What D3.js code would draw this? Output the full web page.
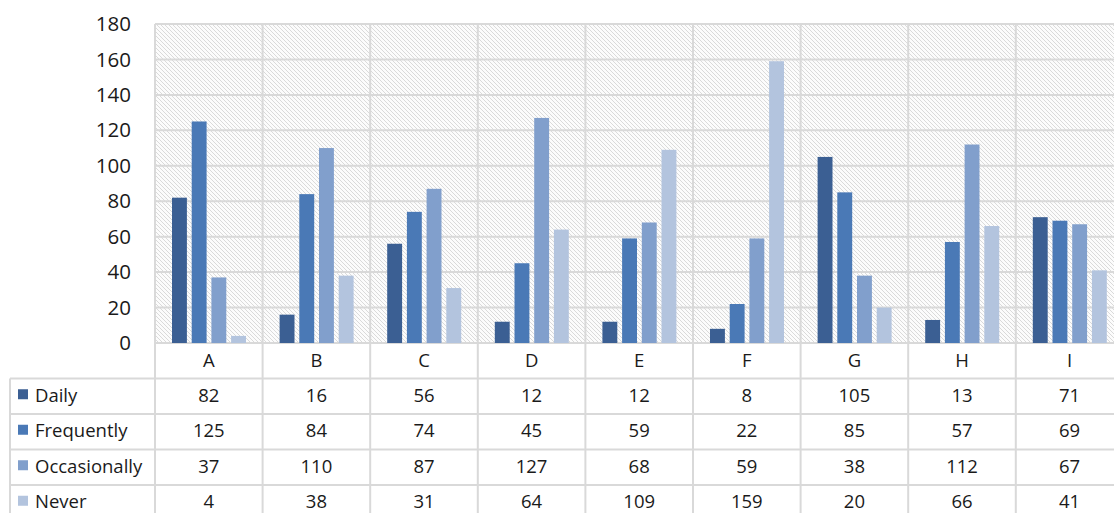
<!DOCTYPE html>
<html><head><meta charset="utf-8">
<script src="https://cdn.jsdelivr.net/npm/d3@7"></script>
<style>body{margin:0;background:#fff;} svg{display:block;}</style>
</head><body>
<script>
const categories = ["A","B","C","D","E","F","G","H","I"];
const seriesNames = ["Daily","Frequently","Occasionally","Never"];
const daily = [82,16,56,12,12,8,105,13,71];
const frequently = [125,84,74,45,59,22,85,57,69];
const occasionally = [37,110,87,127,68,59,38,112,67];
const never = [4,38,31,64,109,159,20,66,41];
const yTicks = [0,20,40,60,80,100,120,140,160,180];
const colors = ["#3b5f93","#4a79b6","#819fcc","#b3c4de"];
const seriesValues = [daily, frequently, occasionally, never];

(function(){
const W = 1114, H = 513;
const plotLeft = 155, plotTop = 24, plotBottom = 343;
const bandW = 107.6;
const svg = d3.select("body").append("svg").attr("width", W).attr("height", H);
const defs = svg.append("defs");
const pat = defs.append("pattern").attr("id","hatch").attr("patternUnits","userSpaceOnUse")
  .attr("width",4).attr("height",4);
pat.append("rect").attr("width",4).attr("height",4).attr("fill","#fcfcfc");
pat.append("path").attr("d","M-1,-1 L5,5 M-1,3 L1,5 M3,-1 L5,1").attr("stroke","#dadada").attr("stroke-width",1);

const x = d3.scaleBand().domain(categories).range([plotLeft, plotLeft + bandW*categories.length]).paddingInner(0).paddingOuter(0);
const x1 = d3.scaleBand().domain(seriesNames).range([17, 91]).paddingInner(0.244).paddingOuter(0);
const y = d3.scaleLinear().domain([0,180]).range([plotBottom, plotTop]);

svg.append("rect").attr("x", plotLeft).attr("y", plotTop).attr("width", x.range()[1]-plotLeft).attr("height", plotBottom-plotTop).attr("fill","url(#hatch)");

const grid = "#d9d9d9";
svg.append("g").selectAll("line").data(yTicks).join("line")
  .attr("x1", plotLeft).attr("x2", x.range()[1]).attr("y1", d=>y(d)).attr("y2", d=>y(d))
  .attr("stroke", grid).attr("stroke-width", 2);
const bounds = categories.map(c => x(c));
svg.append("g").selectAll("line").data(bounds).join("line")
  .attr("x1", d=>d).attr("x2", d=>d).attr("y1", plotTop).attr("y2", H)
  .attr("stroke", grid).attr("stroke-width", 2);

const groups = svg.append("g").selectAll("g").data(categories).join("g")
  .attr("transform", c => `translate(${x(c)},0)`);
groups.selectAll("rect").data((c,i) => seriesNames.map((s,j) => ({s, v: seriesValues[j][i], j})))
  .join("rect")
  .attr("x", d => x1(d.s)).attr("width", x1.bandwidth())
  .attr("y", d => y(d.v)).attr("height", d => y(0) - y(d.v))
  .attr("fill", d => colors[d.j]);

const yAxis = d3.axisLeft(y).tickValues(yTicks).tickSize(0).tickPadding(0);
const yg = svg.append("g").attr("transform", `translate(131,0)`).call(yAxis);
yg.select(".domain").remove();
yg.selectAll("text").attr("font-family","'Open Sans', sans-serif").attr("font-size",20.5).attr("fill","#1a1a1a");

const rowH = 35.5;
const tableTop = plotBottom;
const font = "'Open Sans', sans-serif";
const fs = 18.5;
svg.append("g").selectAll("text").data(categories).join("text")
  .attr("x", c => x(c) + x.bandwidth()/2).attr("y", tableTop + rowH/2 - 1)
  .attr("text-anchor","middle").attr("dominant-baseline","central")
  .attr("font-family", font).attr("font-size",fs).attr("fill","#1a1a1a").text(c=>c);

const rowLines = [1,2,3,4].map(i => tableTop + rowH*i);
svg.append("g").selectAll("line").data(rowLines).join("line")
  .attr("x1", 10).attr("x2", W).attr("y1", d=>d).attr("y2", d=>d)
  .attr("stroke", grid).attr("stroke-width", 2);
svg.append("line").attr("x1",10).attr("x2",10).attr("y1", tableTop + rowH).attr("y2", H)
  .attr("stroke", grid).attr("stroke-width", 2);

seriesNames.forEach((s, j) => {
  const cy = tableTop + rowH*(j+1) + rowH/2 - 2;
  svg.append("rect").attr("x", 18).attr("y", cy - 5).attr("width", 10).attr("height", 10).attr("fill", colors[j]);
  svg.append("text").attr("x", 35).attr("y", cy).attr("dominant-baseline","central")
    .attr("font-family", font).attr("font-size",fs).attr("fill","#1a1a1a").text(s);
  svg.append("g").selectAll("text").data(categories).join("text")
    .attr("x", c => x(c) + x.bandwidth()/2).attr("y", cy)
    .attr("text-anchor","middle").attr("dominant-baseline","central")
    .attr("font-family", font).attr("font-size",fs).attr("fill","#1a1a1a")
    .text((c,i) => seriesValues[j][i]);
});
})();
</script>
</body></html>
